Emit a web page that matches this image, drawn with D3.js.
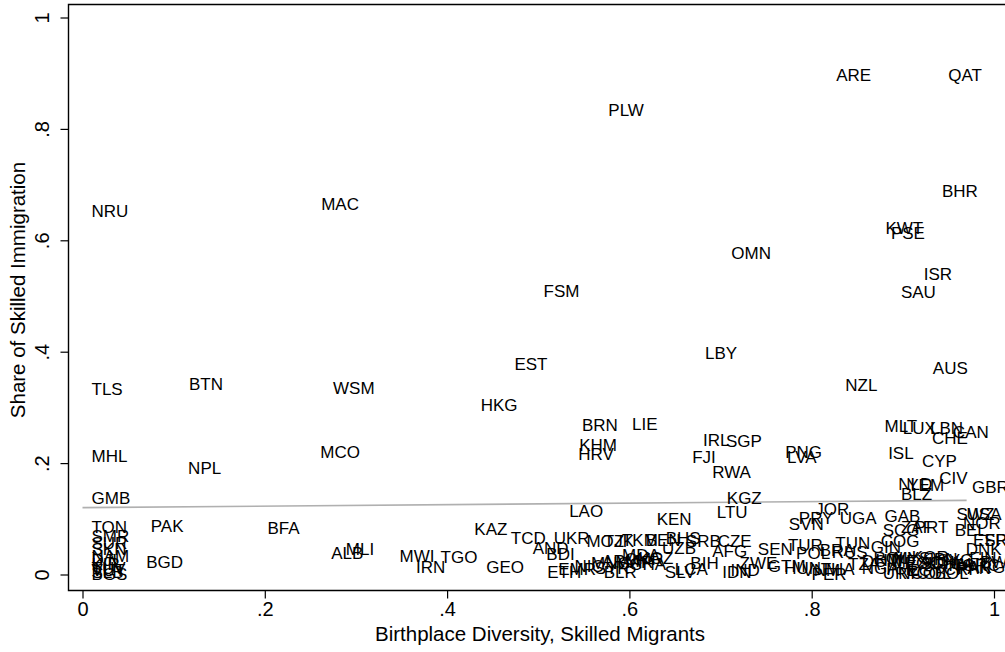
<!DOCTYPE html>
<html><head><meta charset="utf-8">
<script src="https://cdn.jsdelivr.net/npm/d3@7"></script>
<style>
body{margin:0;background:#fff;}
svg{font-family:"Liberation Sans",Arial,Helvetica,sans-serif;}
</style></head>
<body>
<svg id="c" width="1005" height="652"></svg>
<script>
// Country codes (labels), x = birthplace diversity of skilled migrants, y = share of skilled immigration
const countries = ["NRU","TLS","MHL","GMB","TON","SMR","SUR","SKN","NAM","DJI","KIR","TUV","VUT","SLB","BGS",
"BGD","PAK","BTN","NPL","BFA","MAC","WSM","MCO","ALB","MLI","MWI","IRN","TGO","KAZ","HKG","EST","FSM","GEO","TCD","UKR","AND","BDI",
"LAO","MOZ","TJK","ETH","EMR","NIC","MNG","ARM","MAR","GHA","SYR","CMR","BLR","KEN","TKM","BEN","BHS","UZB","SRB","CZE","MDA","KGZ2",
"BIH","AFG","SEN","ZWE","GTM","HUN","IDN","IND","SLV","LCA","LTU","KGZ","RWA","FJI","IRL","SGP","BRN","LIE","KHM","HRV","LBY","OMN","PLW",
"ARE","QAT","BHR","KWT","PSE","ISR","SAU","AUS","NZL","MLT","LUX","LBN","CHE","CAN","ISL","CYP","PNG","LVA","NLD","YEM","CIV","BLZ","GBR",
"JOR","PRY","SVN","UGA","GAB","SWZ","USA","NOR","PRT","ZAF","SCG","BEL","ESP","FRA","DNK","TUN","TUR","BRA","RUS","POL","COG","GIN",
"VNM","PER","THA","TZA","NGA","HTI","MEX","ECU","URY","NCO","COL","BOL","ITA","GRC","MYS","KOR","JPN","CRI","PAN","ARG","CHL2","DOM","ROU","PHL","EGY","SDN","SYC","AUT","FIN","BWA"];
const diversity = [0.000,0.000,0.000,0.000,0.000,0.000,0.000,0.000,0.000,0.000,0.000,0.000,0.000,0.000,0.000,
0.060,0.065,0.107,0.106,0.193,0.252,0.265,0.251,0.263,0.279,0.338,0.356,0.383,0.420,0.427,0.464,0.496,0.433,0.460,0.507,0.484,0.499,
0.524,0.543,0.562,0.500,0.512,0.530,0.548,0.560,0.575,0.590,0.552,0.585,0.562,0.620,0.582,0.608,0.630,0.626,0.652,0.687,0.582,0.600,
0.657,0.681,0.731,0.711,0.742,0.760,0.692,0.701,0.629,0.640,0.686,0.697,0.681,0.659,0.671,0.696,0.538,0.593,0.535,0.534,0.673,0.702,0.567,
0.817,0.940,0.933,0.871,0.877,0.913,0.888,0.923,0.827,0.870,0.890,0.920,0.922,0.945,0.874,0.911,0.761,0.763,0.885,0.895,0.930,0.888,0.966,
0.794,0.776,0.765,0.821,0.870,0.949,0.960,0.956,0.903,0.888,0.868,0.947,0.967,0.980,0.959,0.816,0.764,0.799,0.812,0.773,0.866,0.855,
0.780,0.790,0.800,0.830,0.845,0.860,0.878,0.892,0.868,0.885,0.905,0.925,0.940,0.955,0.880,0.900,0.915,0.935,0.950,0.962,0.920,0.845,0.858,0.872,0.895,0.910,0.928,0.948,0.963,0.975];
const skilledShare = [0.653,0.333,0.213,0.137,0.085,0.069,0.056,0.046,0.034,0.026,0.019,0.012,0.008,0.004,0.001,
0.022,0.087,0.342,0.191,0.083,0.665,0.335,0.220,0.039,0.046,0.033,0.013,0.031,0.082,0.304,0.378,0.509,0.013,0.066,0.066,0.048,0.037,
0.114,0.060,0.060,0.005,0.010,0.016,0.020,0.025,0.022,0.018,0.012,0.028,0.004,0.100,0.062,0.062,0.065,0.048,0.060,0.060,0.035,0.030,
0.021,0.042,0.046,0.021,0.015,0.012,0.004,0.008,0.004,0.010,0.112,0.137,0.184,0.211,0.241,0.240,0.268,0.270,0.233,0.216,0.398,0.577,0.834,
0.897,0.897,0.689,0.622,0.613,0.540,0.507,0.371,0.340,0.267,0.263,0.263,0.245,0.256,0.218,0.204,0.220,0.211,0.162,0.161,0.173,0.145,0.157,
0.118,0.101,0.091,0.101,0.105,0.109,0.109,0.092,0.085,0.085,0.080,0.080,0.062,0.062,0.046,0.057,0.053,0.044,0.040,0.039,0.060,0.050,
0.008,0.001,0.010,0.018,0.012,0.026,0.024,0.020,0.003,0.003,0.003,0.003,0.017,0.017,0.030,0.032,0.028,0.010,0.012,0.014,0.022,0.024,0.030,0.010,0.008,0.020,0.026,0.018,0.030,0.022];
// fitted linear regression line
const fitIntercept = 0.120, fitSlope = 0.0135, fitRange = [0, 0.97];
const xTicks = [0, 0.2, 0.4, 0.6, 0.8, 1];
const yTicks = [0, 0.2, 0.4, 0.6, 0.8, 1];
const tickFmt = v => v === 0 ? "0" : v === 1 ? "1" : String(v).replace(/^0/, "");

const svg = d3.select("#c");
const x = d3.scaleLinear().domain([0,1]).range([82.5, 994]);
const y = d3.scaleLinear().domain([0,1]).range([574.5, 17.5]);
const frameL = 68.5, frameT = 4.5, frameB = 590.5, frameR = 1010;

// frame
svg.append("path").attr("d", `M${frameR},${frameT}H${frameL}V${frameB}H${frameR}`)
  .attr("fill","none").attr("stroke","#000").attr("stroke-width",1.4);

// fitted line
svg.append("line")
  .attr("x1", x(fitRange[0])).attr("y1", y(fitIntercept + fitSlope*fitRange[0]))
  .attr("x2", x(fitRange[1])).attr("y2", y(fitIntercept + fitSlope*fitRange[1]))
  .attr("stroke","#b0b0b0").attr("stroke-width",1.6);

// axes
const xAxis = d3.axisBottom(x).tickValues(xTicks).tickFormat(tickFmt).tickSize(8).tickPadding(3);
const gx = svg.append("g").attr("transform", `translate(0,${frameB})`).call(xAxis);
gx.attr("font-size", 20).attr("font-family", null);
gx.select(".domain").remove();
gx.selectAll("text").attr("fill","#000");
gx.selectAll("line").attr("stroke","#000").attr("stroke-width",1.2);

const yAxis = d3.axisLeft(y).tickValues(yTicks).tickFormat(tickFmt).tickSize(8).tickPadding(0);
const gy = svg.append("g").attr("transform", `translate(${frameL},0)`).call(yAxis);
gy.attr("font-size", 20).attr("font-family", null);
gy.select(".domain").remove();
gy.selectAll("line").attr("stroke","#000").attr("stroke-width",1.2);
gy.selectAll("text").attr("fill","#000")
  .attr("text-anchor","middle").attr("x",null)
  .attr("transform","translate(-27,0) rotate(-90)").attr("dy","0.35em");

// axis titles
svg.append("text").attr("x", 540).attr("y", 641).attr("text-anchor","middle")
  .attr("font-size",20.5).text("Birthplace Diversity, Skilled Migrants");
svg.append("text").attr("transform","translate(25,290) rotate(-90)").attr("text-anchor","middle")
  .attr("font-size",20.5).text("Share of Skilled Immigration");

// labels (marker label at position 3: right of invisible marker)
const data = countries.map((c,i)=>({c: c.replace(/\d+$/,""), x: diversity[i], y: skilledShare[i]}));
svg.append("g").selectAll("text").data(data).join("text")
  .attr("x", d => x(d.x) + 9).attr("y", d => y(d.y)).attr("dy","0.35em")
  .attr("font-size",17).attr("fill","#000").text(d => d.c);
</script>
</body></html>
